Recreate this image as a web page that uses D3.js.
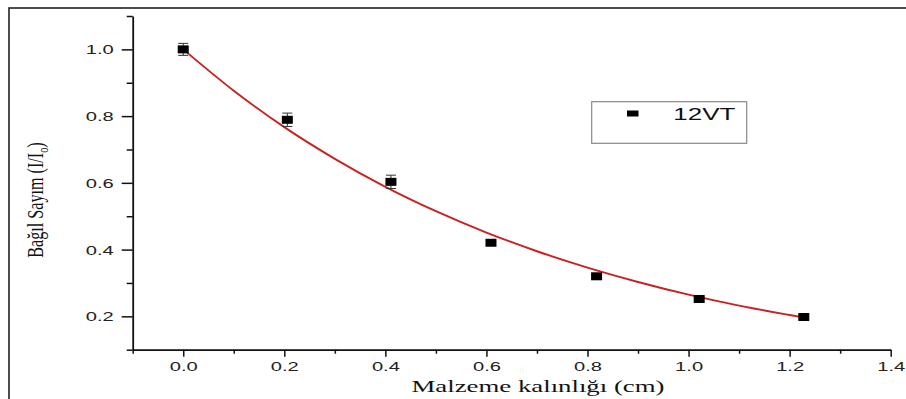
<!DOCTYPE html>
<html>
<head>
<meta charset="utf-8">
<script src="https://cdn.jsdelivr.net/npm/d3@7"></script>
<style>
  html, body { margin: 0; padding: 0; background: #fff; }
  svg { display: block; }
</style>
</head>
<body>
<svg id="chart" width="906" height="399"></svg>
<script>
// ---- data ----
const thickness = [0.0, 0.206, 0.411, 0.609, 0.818, 1.021, 1.228];          // cm
const relCount  = [1.0, 0.789, 0.603, 0.4205, 0.320, 0.252, 0.198];        // I/I0
const relErr    = [0.018, 0.02, 0.02, 0.008, 0.006, 0.005, 0.004];
// fitted curve
const fitX = [0.0, 0.1, 0.2, 0.3, 0.4, 0.5, 0.6, 0.7, 0.8, 0.9, 1.0, 1.1, 1.2, 1.23];
const fitY = [1.0, 0.876, 0.767, 0.672, 0.588, 0.515, 0.451, 0.395, 0.346, 0.303, 0.265, 0.232, 0.204, 0.196];
const xMajorTicks = [0.0, 0.2, 0.4, 0.6, 0.8, 1.0, 1.2, 1.4];
const xMinorTicks = [-0.1, 0.1, 0.3, 0.5, 0.7, 0.9, 1.1, 1.3];
const yMajorTicks = [0.2, 0.4, 0.6, 0.8, 1.0];
const yMinorTicks = [0.1, 0.3, 0.5, 0.7, 0.9, 1.1];
const seriesName = "12VT";
const xTitle = "Malzeme kalınlığı (cm)";
const yTitle = "Bağıl Sayım (I/I";
const yTitleSub = "o";

// ---- layout ----
const svg = d3.select("#chart");
const x = d3.scaleLinear().domain([-0.1, 1.4]).range([132.7, 890.7]);
const y = d3.scaleLinear().domain([0.1, 1.1]).range([349.7, 16]);
const fmt = d3.format(".1f");

// outer frame (partially cropped)
svg.append("rect").attr("x", 9).attr("y", 8).attr("width", 1000).attr("height", 1000)
  .attr("fill", "none").attr("stroke", "#222").attr("stroke-width", 1.6);

// x axis
const gx = svg.append("g").attr("transform", `translate(0,${y(0.1)})`);
gx.call(d3.axisBottom(x).tickValues(xMajorTicks).tickSize(7).tickSizeOuter(0).tickFormat(fmt));
gx.append("g").call(d3.axisBottom(x).tickValues(xMinorTicks).tickSize(4).tickSizeOuter(0).tickFormat(""))
  .select(".domain").remove();
// y axis
const gy = svg.append("g").attr("transform", `translate(${x(-0.1)},0)`);
gy.call(d3.axisLeft(y).tickValues(yMajorTicks).tickSize(11).tickSizeOuter(0).tickFormat(fmt));
gy.append("g").call(d3.axisLeft(y).tickValues(yMinorTicks).tickSize(6).tickSizeOuter(0).tickFormat(""))
  .select(".domain").remove();

svg.selectAll(".domain").attr("stroke", "#111").attr("stroke-width", 1.8);
svg.selectAll(".tick line").attr("stroke", "#111").attr("stroke-width", 1.5);
svg.selectAll(".tick text")
  .attr("font-family", "Liberation Sans, Arial, sans-serif")
  .attr("font-size", 12.5).attr("fill", "#222")
  .attr("textLength", 28).attr("lengthAdjust", "spacingAndGlyphs");
gx.selectAll(".tick text").attr("dy", "0").attr("y", 21);
gy.selectAll(".tick text").attr("x", -19).attr("dy", "0.36em");

// fit curve
const line = d3.line().x((d, i) => x(fitX[i])).y(d => y(d)).curve(d3.curveMonotoneX);
svg.append("path").datum(fitY).attr("d", line)
  .attr("fill", "none").attr("stroke", "#cc2020").attr("stroke-width", 1.9);

// error bars
const eb = svg.append("g").attr("stroke", "#333").attr("stroke-width", 1);
thickness.forEach((t, i) => {
  const cx = x(t), y1 = y(relCount[i] + relErr[i]), y2 = y(relCount[i] - relErr[i]);
  eb.append("line").attr("x1", cx).attr("x2", cx).attr("y1", y1).attr("y2", y2);
  eb.append("line").attr("x1", cx - 5).attr("x2", cx + 5).attr("y1", y1).attr("y2", y1);
  eb.append("line").attr("x1", cx - 5).attr("x2", cx + 5).attr("y1", y2).attr("y2", y2);
});

// markers
svg.append("g").selectAll("rect").data(thickness).join("rect")
  .attr("x", d => x(d) - 5.5)
  .attr("y", (d, i) => y(relCount[i]) - 4)
  .attr("width", 11).attr("height", 8).attr("fill", "#000");

// legend
const lg = svg.append("g");
lg.append("rect").attr("x", 591.7).attr("y", 101.7).attr("width", 155).attr("height", 41.6)
  .attr("fill", "#fff").attr("stroke", "#888").attr("stroke-width", 1.2);
lg.append("rect").attr("x", 627).attr("y", 110.5).attr("width", 11.5).attr("height", 6).attr("fill", "#000");
lg.append("text").attr("x", 673.3).attr("y", 119.5).text(seriesName)
  .attr("font-family", "Liberation Sans, Arial, sans-serif").attr("font-size", 17).attr("fill", "#111")
  .attr("textLength", 62).attr("lengthAdjust", "spacingAndGlyphs");

// axis titles
svg.append("text").attr("x", 538).attr("y", 392).attr("text-anchor", "middle")
  .attr("font-family", "Liberation Serif, Times New Roman, serif").attr("font-size", 17).attr("fill", "#111")
  .attr("textLength", 253).attr("lengthAdjust", "spacingAndGlyphs")
  .text(xTitle);

const yt = svg.append("text").attr("transform", "translate(43,200) rotate(-90) scale(0.95,1.3)")
  .attr("text-anchor", "middle")
  .attr("font-family", "Liberation Serif, Times New Roman, serif").attr("font-size", 17).attr("fill", "#111");
yt.append("tspan").text(yTitle);
yt.append("tspan").attr("font-size", 11).attr("dy", 4).text(yTitleSub);
yt.append("tspan").attr("dy", -4).text(")");
</script>
</body>
</html>
